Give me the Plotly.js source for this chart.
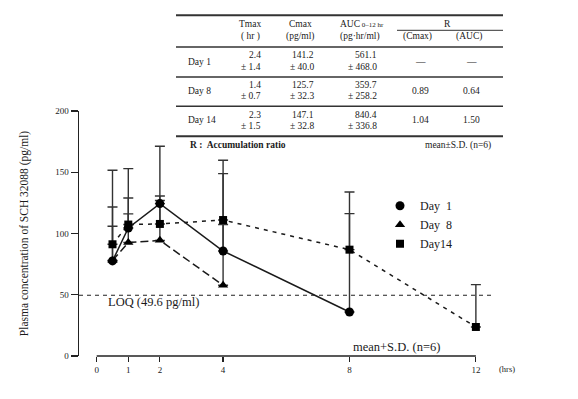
<!DOCTYPE html>
<html>
<head>
<meta charset="utf-8">
<script src="https://cdn.plot.ly/plotly-3.0.1.min.js"></script>
<style>html,body{margin:0;padding:0;background:#fff;}#chart{width:578px;height:399px;}</style>
</head>
<body>
<div id="chart"></div>
<script>
// ---- data ----
const times1 = [0.5, 1, 2, 4, 8];
const day1 = [77.6, 104.5, 124.4, 85.7, 35.9];
const day1Top = [121.6, 153.0, 171.2, 148.9, 116.2];

const times8 = [0.5, 1, 2, 4];
const day8 = [78.0, 92.6, 94.4, 57.7];
const day8Top = [105.9, 116.0, 127.0, 107.3];

const times14 = [0.5, 1, 2, 4, 8, 12];
const day14 = [91.2, 107.3, 107.8, 111.0, 86.8, 23.7];
const day14Top = [151.6, 129.0, 130.6, 159.8, 133.9, 58.3];

const loq = 49.6;
const xTicks = [0, 1, 2, 4, 8, 12];
const yTicks = [0, 50, 100, 150, 200];

// table
const tRows = ['Day 1', 'Day 8', 'Day 14'];
const tTmax = ['2.4', '1.4', '2.3'];
const tTmaxSD = ['1.4', '0.7', '1.5'];
const tCmax = ['141.2', '125.7', '147.1'];
const tCmaxSD = ['40.0', '32.3', '32.8'];
const tAuc = ['561.1', '359.7', '840.4'];
const tAucSD = ['468.0', '258.2', '336.8'];
const tRC = ['\u2014', '0.89', '1.04'];
const tRA = ['\u2014', '0.64', '1.50'];

// ---- layout helpers (pixel -> paper) ----
const L = 79, R = 492, T = 110.7, B = 355.7;
const px = p => (p - L) / (R - L);
const py = p => (B - p) / (B - T);
const serif = 'Liberation Serif, DejaVu Serif, serif';
const ink = '#1a1a1a';

function errs(vals, tops) {
  return {
    type: 'data', symmetric: false,
    array: tops.map((t, i) => t - vals[i]),
    arrayminus: vals.map(() => 0),
    color: '#333', thickness: 1.4, width: 5
  };
}

const traces = [
  {x: times1, y: day1, mode: 'lines', line: {color: ink, width: 1.5}, error_y: errs(day1, day1Top), showlegend: false, hoverinfo: 'skip'},
  {x: times8, y: day8, mode: 'lines', line: {color: ink, width: 1.5, dash: '8px,4px'}, error_y: errs(day8, day8Top), showlegend: false, hoverinfo: 'skip'},
  {x: times14, y: day14, mode: 'lines', line: {color: ink, width: 1.5, dash: '4px,5px'}, error_y: errs(day14, day14Top), showlegend: false, hoverinfo: 'skip'},
  {x: times1, y: day1, mode: 'markers', name: 'Day\u00a0\u00a01', marker: {symbol: 'circle', size: 9, color: '#000'}, cliponaxis: false},
  {x: times8, y: day8, mode: 'markers', name: 'Day\u00a0\u00a08', marker: {symbol: 'triangle-up', size: 9, color: '#000'}, cliponaxis: false},
  {x: times14, y: day14, mode: 'markers', name: 'Day14', marker: {symbol: 'square', size: 8, color: '#000'}, cliponaxis: false}
];

const shapes = [];
const annotations = [];
function hline(y, x0, x1, w) {
  shapes.push({type: 'line', xref: 'paper', yref: 'paper', x0: px(x0), x1: px(x1), y0: py(y), y1: py(y), line: {color: '#333', width: w}});
}
function txt(text, x, y, anchor, size, extra) {
  annotations.push(Object.assign({text: text, xref: 'paper', yref: 'paper', x: px(x), y: py(y), xanchor: anchor, yanchor: 'middle', showarrow: false, font: {family: serif, size: size, color: ink}}, extra || {}));
}

// table rules
hline(15, 176, 503, 2);
hline(30, 397, 503, 1);
hline(46.7, 176, 503, 1.5);
hline(76.7, 176, 503, 1.5);
hline(106, 176, 503, 1.5);
hline(136, 176, 503, 2);

// table header
txt('Tmax', 250, 24, 'center', 9.5);
txt('( hr )', 250, 36, 'center', 9.5);
txt('Cmax', 300, 24, 'center', 9.5);
txt('(pg/ml)', 300, 36, 'center', 9.5);
txt('AUC<span style="font-size:7px"> 0\u201312 hr</span>', 362, 24, 'center', 9.5);
txt('(pg\u00b7hr/ml)', 360, 36, 'center', 9.5);
txt('R', 447, 24, 'center', 9.5);
txt('(Cmax)', 417, 36, 'center', 9.5);
txt('(AUC)', 469, 36, 'center', 9.5);

const rowTop = [55, 84.3, 114.3];
const rowMid = [61.5, 90.5, 120];
tRows.forEach((r, i) => {
  const yt = rowTop[i], yb = rowTop[i] + 11.7;
  txt(r, 186, rowMid[i], 'left', 9.5);
  txt(tTmax[i], 263, yt, 'right', 9.5);
  txt('\u00b1 ' + tTmaxSD[i], 263, yb, 'right', 9.5);
  txt(tCmax[i], 316, yt, 'right', 9.5);
  txt('\u00b1 ' + tCmaxSD[i], 316, yb, 'right', 9.5);
  txt(tAuc[i], 379, yt, 'right', 9.5);
  txt('\u00b1 ' + tAucSD[i], 379, yb, 'right', 9.5);
  txt(tRC[i], 420, rowMid[i], 'center', 9.5);
  txt(tRA[i], 471, rowMid[i], 'center', 9.5);
});
txt('<b>R :  Accumulation ratio</b>', 188, 145, 'left', 9.5);
txt('mean\u00b1S.D. (n=6)', 493, 145, 'right', 9.5);

// LOQ line and labels
shapes.push({type: 'line', xref: 'paper', yref: 'y', x0: 0, x1: 1, y0: loq, y1: loq, line: {color: '#222', width: 1.2, dash: '4px,4px'}});
// broken x axis line from 0 to 12
shapes.push({type: 'line', xref: 'x', yref: 'paper', x0: xTicks[0], x1: xTicks[xTicks.length - 1], y0: 0, y1: 0, line: {color: '#222', width: 1.5}});
txt('LOQ (49.6 pg/ml)', 106, 302, 'left', 12.5);
txt('mean+S.D. (n=6)', 351, 347, 'left', 12.5);
txt('(hrs)', 507, 369, 'center', 8.5);

const layout = {
  width: 578, height: 399,
  margin: {l: L, r: 578 - R, t: T, b: 399 - B},
  paper_bgcolor: '#fff', plot_bgcolor: '#fff',
  font: {family: serif, color: ink},
  showlegend: true,
  legend: {x: px(380), y: py(191), xanchor: 'left', yanchor: 'top', bgcolor: 'rgba(0,0,0,0)', font: {family: serif, size: 12, color: ink}, tracegroupgap: 0},
  xaxis: {
    range: [-0.56, 12.51], tickvals: xTicks, ticktext: xTicks.map(String),
    showgrid: false, zeroline: false, showline: false,
    ticks: 'outside', ticklen: 5, tickwidth: 1.2, tickcolor: '#222',
    tickfont: {family: serif, size: 9, color: ink}
  },
  yaxis: {
    range: [0, 200], tickvals: yTicks, ticktext: yTicks.map(String),
    showgrid: false, zeroline: false, showline: true, linecolor: '#222', linewidth: 1.5,
    ticks: 'outside', ticklen: 7, tickwidth: 1.2, tickcolor: '#222',
    tickfont: {family: serif, size: 9, color: ink},
    title: {text: 'Plasma concentration of SCH 32088 (pg/ml)', font: {family: serif, size: 11.5, color: ink}, standoff: 24}
  },
  shapes: shapes,
  annotations: annotations
};

Plotly.newPlot('chart', traces, layout, {displayModeBar: false, staticPlot: true});
</script>
</body>
</html>
